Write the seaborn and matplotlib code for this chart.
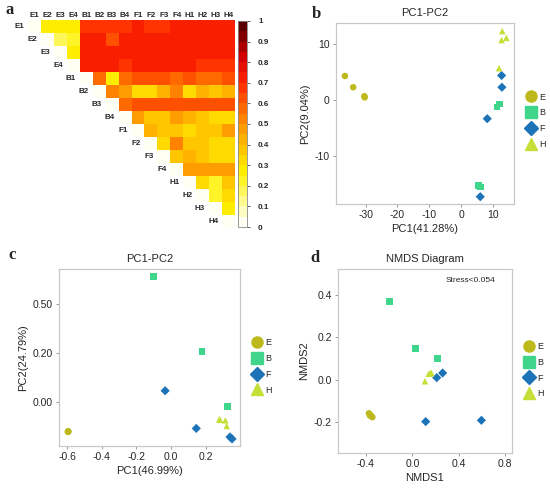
import numpy as np
import pandas as pd
import seaborn as sns
import matplotlib.pyplot as plt
from matplotlib.colors import LinearSegmentedColormap
from matplotlib.lines import Line2D

# samples and upper-triangle distances (row i -> columns i+1..15)
samples = ['E1', 'E2', 'E3', 'E4', 'B1', 'B2', 'B3', 'B4',
           'F1', 'F2', 'F3', 'F4', 'H1', 'H2', 'H3', 'H4']
upper = [
    [0.25, 0.25, 0.25, 0.68, 0.68, 0.68, 0.68, 0.70, 0.68, 0.68, 0.72, 0.70, 0.70, 0.70, 0.70],
    [0.15, 0.23, 0.70, 0.73, 0.64, 0.70, 0.72, 0.72, 0.72, 0.72, 0.70, 0.70, 0.70, 0.70],
    [0.25, 0.70, 0.73, 0.70, 0.70, 0.74, 0.72, 0.72, 0.72, 0.70, 0.70, 0.70, 0.70],
    [0.70, 0.73, 0.72, 0.66, 0.73, 0.70, 0.70, 0.70, 0.70, 0.67, 0.67, 0.67],
    [0.55, 0.25, 0.55, 0.64, 0.64, 0.60, 0.57, 0.62, 0.58, 0.58, 0.62],
    [0.53, 0.45, 0.33, 0.33, 0.40, 0.50, 0.33, 0.40, 0.38, 0.42],
    [0.55, 0.63, 0.63, 0.60, 0.60, 0.60, 0.60, 0.60, 0.60],
    [0.48, 0.35, 0.35, 0.45, 0.42, 0.35, 0.33, 0.33],
    [0.42, 0.35, 0.35, 0.30, 0.38, 0.38, 0.45],
    [0.30, 0.52, 0.38, 0.38, 0.32, 0.32],
    [0.35, 0.42, 0.35, 0.32, 0.32],
    [0.48, 0.48, 0.48, 0.48],
    [0.30, 0.22, 0.38],
    [0.20, 0.32],
    [0.25],
    [],
]
cbar_ticks = [0, 0.1, 0.2, 0.3, 0.4, 0.5, 0.6, 0.7, 0.8, 0.9, 1]
cbar_labels = ['0', '0.1', '0.2', '0.3', '0.4', '0.5', '0.6', '0.7', '0.8', '0.9', '1']

groups = ['E'] * 4 + ['B'] * 4 + ['F'] * 4 + ['H'] * 4

# panel b: PCA
b_x = [-36.5, -33.9, -30.4, -30.3, 11.3, 12.1, 5.5, 6.0,
       12.7, 12.8, 8.2, 6.0, 12.9, 12.7, 14.2, 11.9]
b_y = [4.3, 2.3, 0.7, 0.5, -1.2, -0.7, -15.2, -15.5,
       4.4, 2.3, -3.3, -17.2, 12.3, 10.7, 11.1, 5.7]

# panel c: PCoA
c_x = [-0.596, -0.596, -0.594, -0.595, -0.10, 0.179, 0.328, 0.330,
       -0.034, 0.146, 0.341, 0.353, 0.279, 0.314, 0.322, 0.284]
c_y = [-0.123, -0.124, -0.122, -0.123, 0.511, 0.204, -0.021, -0.020,
       0.044, -0.110, -0.145, -0.153, -0.073, -0.077, -0.100, -0.075]
c_yticks = [0.0, 0.2, 0.4]
c_yticklabels = ['0.00', '0.20', '0.50']

# panel d: NMDS
d_x = [-0.374, -0.359, -0.345, -0.365, -0.198, 0.026, 0.216, 0.216,
       0.210, 0.261, 0.115, 0.595, 0.109, 0.141, 0.164, 0.155]
d_y = [-0.159, -0.168, -0.177, -0.170, 0.368, 0.146, 0.100, 0.100,
       0.009, 0.031, -0.198, -0.192, -0.008, 0.027, 0.031, 0.030]

palette = {'E': '#BDB91C', 'B': '#3FD68C', 'F': '#1C73B8', 'H': '#C6DF38'}
markers = {'E': 'o', 'B': 's', 'F': 'D', 'H': '^'}

sns.set_style('white')
plt.rcParams['font.family'] = ['Liberation Sans', 'DejaVu Sans']
plt.rcParams['axes.unicode_minus'] = False

fig = plt.figure(figsize=(5.5, 4.93), dpi=100)

# ---- panel a: heatmap
n = len(samples)
mat = np.zeros((n, n))
for i, row in enumerate(upper):
    mat[i, i + 1:] = row
mask = np.tril(np.ones((n, n), dtype=bool), k=-1)
dist = pd.DataFrame(mat, index=samples, columns=samples)

cmap = LinearSegmentedColormap.from_list(
    'wyr', [(0.0, '#FFFFF4'), (0.25, '#FFF200'), (0.45, '#FFA800'),
            (0.6, '#FF6000'), (0.72, '#FF2200'), (0.85, '#D00000'),
            (1.0, '#5A0000')], N=20)

ax_a = fig.add_axes([28 / 550, 1 - 228 / 493, 207 / 550, 208 / 493])
cax = fig.add_axes([238 / 550, 1 - 227 / 493, 9 / 550, 206 / 493])
sns.heatmap(dist, mask=mask, cmap=cmap, vmin=0, vmax=1, ax=ax_a, cbar_ax=cax,
            xticklabels=True, yticklabels=False, cbar_kws={'ticks': cbar_ticks})
ax_a.xaxis.tick_top()
ax_a.tick_params(axis='x', length=0, pad=1)
for t in ax_a.get_xticklabels():
    t.set_rotation(0)
    t.set_fontsize(5.8)
    t.set_fontweight('bold')
for i, s in enumerate(samples):
    ax_a.text(i - 0.3, i + 0.5, s, ha='right', va='center', fontsize=5.8, fontweight='bold')
cax.set_yticklabels(cbar_labels, fontsize=5.8, fontweight='bold')
cax.tick_params(length=2, width=0.5, pad=6)
cbar = ax_a.collections[0].colorbar
cbar.outline.set_edgecolor('#888888')
cbar.outline.set_linewidth(0.6)


def scatter_panel(rect, x, y, title, xlabel, ylabel, legend_y):
    ax = fig.add_axes(rect)
    df = pd.DataFrame({'x': x, 'y': y, 'group': groups})
    sns.scatterplot(data=df, x='x', y='y', hue='group', style='group',
                    palette=palette, markers=markers, s=22, linewidth=0,
                    legend=False, ax=ax)
    ax.set_title(title, fontsize=8, pad=5)
    ax.set_xlabel(xlabel, fontsize=8, labelpad=3)
    ax.set_ylabel(ylabel, fontsize=8, labelpad=3)
    ax.tick_params(labelsize=7.5, length=2.5, width=0.6, color='#888888',
                   bottom=True, left=True, pad=2)
    for sp in ax.spines.values():
        sp.set_edgecolor('#C8C8C8')
        sp.set_linewidth(0.9)
    handles = [Line2D([], [], marker=markers[g], color=palette[g], linestyle='',
                      markersize=8 if g != 'F' else 7) for g in palette]
    ax.legend(handles, list(palette), loc='center left',
              bbox_to_anchor=(1.01, legend_y), frameon=False, fontsize=6.5,
              handletextpad=0.1, labelspacing=0.75, handlelength=1.6)
    return ax


ax_b = scatter_panel([336 / 550, 1 - 204 / 493, 178 / 550, 181 / 493], b_x, b_y,
                     'PC1-PC2', 'PC1(41.28%)', 'PC2(9.04%)', 0.46)
ax_b.set_xlim(-39.3, 16.6)
ax_b.set_ylim(-18.5, 13.75)
ax_b.set_xticks([-30, -20, -10, 0, 10])
ax_b.set_yticks([-10, 0, 10])

ax_c = scatter_panel([59 / 550, 1 - 446 / 493, 181 / 550, 177 / 493], c_x, c_y,
                     'PC1-PC2', 'PC1(46.99%)', 'PC2(24.79%)', 0.45)
ax_c.set_xlim(-0.648, 0.399)
ax_c.set_ylim(-0.182, 0.542)
ax_c.set_xticks([-0.6, -0.4, -0.2, 0.0, 0.2])
ax_c.set_xticklabels(['-0.6', '-0.4', '-0.2', '0.0', '0.2'])
ax_c.set_yticks(c_yticks)
ax_c.set_yticklabels(c_yticklabels)

ax_d = scatter_panel([338 / 550, 1 - 453 / 493, 174 / 550, 184 / 493], d_x, d_y,
                     'NMDS Diagram', 'NMDS1', 'NMDS2', 0.45)
ax_d.set_xlim(-0.641, 0.859)
ax_d.set_ylim(-0.346, 0.521)
ax_d.set_xticks([-0.4, 0.0, 0.4, 0.8])
ax_d.set_xticklabels(['-0.4', '0.0', '0.4', '0.8'])
ax_d.set_yticks([-0.2, 0.0, 0.2, 0.4])
ax_d.set_yticklabels(['-0.2', '0.0', '0.2', '0.4'])
ax_d.text(0.76, 0.935, 'Stress<0.054', transform=ax_d.transAxes,
          ha='center', va='center', fontsize=6)

# panel letters
for lab, px, py in [('a', 5, 10), ('b', 312, 14), ('c', 8, 255), ('d', 310, 258)]:
    fig.text(px / 550, 1 - py / 493, lab, fontsize=12, fontweight='bold',
             family=['Liberation Serif', 'DejaVu Serif'], ha='left', va='center')

fig.savefig('out.png', dpi=100)
